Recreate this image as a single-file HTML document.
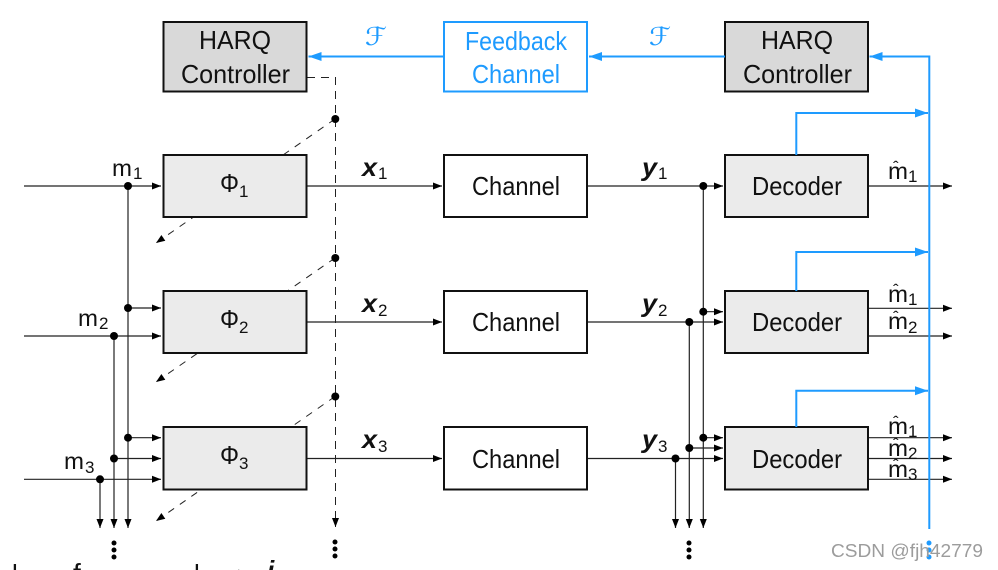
<!DOCTYPE html>
<html><head><meta charset="utf-8"><style>
html,body{margin:0;padding:0;background:#fff;width:998px;height:570px;overflow:hidden}
svg{display:block}
text{font-family:"Liberation Sans",sans-serif;fill:#111}
.b{font-size:26px}
.l{font-size:23px}
.s{font-size:17px}
.v{font-weight:bold;font-style:italic;font-size:25px}
.f{font-family:"DejaVu Sans",serif;font-style:normal;font-size:25px;fill:#1e9bff}
</style></head><body>
<svg width="998" height="570" viewBox="0 0 998 570" xmlns="http://www.w3.org/2000/svg">
<defs>
<marker id="a" markerUnits="userSpaceOnUse" markerWidth="9" markerHeight="8" refX="9" refY="4" orient="auto"><path d="M0 0.5L9 4L0 7.5Z" fill="#000"/></marker>
<marker id="c" markerUnits="userSpaceOnUse" markerWidth="13" markerHeight="10" refX="13" refY="5" orient="auto"><path d="M0 0.5L13 5L0 9.5Z" fill="#1e9bff"/></marker>
</defs>
<!-- dashed -->
<g fill="none" stroke="#222" stroke-width="1">
<path d="M307 77.5H335.5V527" stroke-dasharray="8 6" marker-end="url(#a)"/>
<path d="M335 119L156 243" stroke-dasharray="7 7" marker-end="url(#a)"/>
<path d="M335 258L156 382" stroke-dasharray="7 7" marker-end="url(#a)"/>
<path d="M335 396.5L156 521" stroke-dasharray="7 7" marker-end="url(#a)"/>
</g>
<!-- black lines -->
<g fill="none" stroke="#222" stroke-width="1.2">
<path d="M24 186H161" marker-end="url(#a)"/>
<path d="M128 186V528" marker-end="url(#a)"/>
<path d="M24 336H161" marker-end="url(#a)"/>
<path d="M114 336V528" marker-end="url(#a)"/>
<path d="M24 479.3H161" marker-end="url(#a)"/>
<path d="M100 479.3V528" marker-end="url(#a)"/>
<path d="M128 308H161" marker-end="url(#a)"/>
<path d="M128 437.7H161" marker-end="url(#a)"/>
<path d="M114 458.5H161" marker-end="url(#a)"/>
<path d="M307 186H442" marker-end="url(#a)"/>
<path d="M307 322H442" marker-end="url(#a)"/>
<path d="M307 458.5H442" marker-end="url(#a)"/>
<path d="M587 186H723" marker-end="url(#a)"/>
<path d="M587 322H723" marker-end="url(#a)"/>
<path d="M587 458.5H723" marker-end="url(#a)"/>
<path d="M703.3 186V528" marker-end="url(#a)"/>
<path d="M689.3 322V528" marker-end="url(#a)"/>
<path d="M675.5 458.5V528" marker-end="url(#a)"/>
<path d="M703.3 311.7H723" marker-end="url(#a)"/>
<path d="M703.3 437.7H723" marker-end="url(#a)"/>
<path d="M689.3 448H723" marker-end="url(#a)"/>
<path d="M868 186H952" marker-end="url(#a)"/>
<path d="M868 308.3H952" marker-end="url(#a)"/>
<path d="M868 336H952" marker-end="url(#a)"/>
<path d="M868 437.7H952" marker-end="url(#a)"/>
<path d="M868 458.5H952" marker-end="url(#a)"/>
<path d="M868 479.3H952" marker-end="url(#a)"/>
</g>
<!-- boxes -->
<g stroke="#111" stroke-width="2">
<rect x="163.5" y="22" width="143" height="69.5" fill="#d9d9d9"/>
<rect x="725" y="22" width="143" height="69.5" fill="#d9d9d9"/>
<rect x="163.5" y="155" width="143" height="62" fill="#ebebeb"/>
<rect x="163.5" y="291" width="143" height="62" fill="#ebebeb"/>
<rect x="163.5" y="427" width="143" height="62.5" fill="#ebebeb"/>
<rect x="444" y="155" width="143" height="62" fill="#fff"/>
<rect x="444" y="291" width="143" height="62" fill="#fff"/>
<rect x="444" y="427" width="143" height="62.5" fill="#fff"/>
<rect x="725" y="155" width="143" height="62" fill="#ebebeb"/>
<rect x="725" y="291" width="143" height="62" fill="#ebebeb"/>
<rect x="725" y="427" width="143" height="62.5" fill="#ebebeb"/>
</g>
<rect x="444" y="22" width="143" height="69.5" fill="#fff" stroke="#1e9bff" stroke-width="2"/>
<!-- blue -->
<g fill="none" stroke="#1e9bff" stroke-width="2">
<path d="M929.3 529V56.5H869.5" marker-end="url(#c)"/>
<path d="M725 56.5H589" marker-end="url(#c)"/>
<path d="M444 56.5H308.5" marker-end="url(#c)"/>
<path d="M796.3 155V113H928" marker-end="url(#c)"/>
<path d="M796.3 291V252H928" marker-end="url(#c)"/>
<path d="M796.3 427V390.7H928" marker-end="url(#c)"/>
</g>
<!-- dots -->
<g fill="#000">
<circle cx="128" cy="186" r="4"/><circle cx="128" cy="308" r="4"/><circle cx="114" cy="336" r="4"/>
<circle cx="128" cy="437.7" r="4"/><circle cx="114" cy="458.5" r="4"/><circle cx="100" cy="479.3" r="4"/>
<circle cx="335.3" cy="119" r="4"/><circle cx="335.3" cy="258" r="4"/><circle cx="335.3" cy="396.5" r="4"/>
<circle cx="703.3" cy="186" r="4"/><circle cx="703.3" cy="311.7" r="4"/><circle cx="689.3" cy="322" r="4"/>
<circle cx="703.3" cy="437.7" r="4"/><circle cx="689.3" cy="448" r="4"/><circle cx="675.5" cy="458.5" r="4"/>
<circle cx="114" cy="543" r="2.5"/><circle cx="114" cy="550" r="2.5"/><circle cx="114" cy="557" r="2.5"/>
<circle cx="335" cy="542" r="2.5"/><circle cx="335" cy="549" r="2.5"/><circle cx="335" cy="556" r="2.5"/>
<circle cx="689" cy="543" r="2.5"/><circle cx="689" cy="550" r="2.5"/><circle cx="689" cy="557" r="2.5"/>
</g>
<g fill="#1e9bff"><circle cx="929" cy="543" r="2.5"/><circle cx="929" cy="550" r="2.5"/><circle cx="929" cy="557" r="2.5"/></g>
<!-- box labels -->
<text class="b" x="199" y="49" textLength="72" lengthAdjust="spacingAndGlyphs">HARQ</text>
<text class="b" x="181" y="83" textLength="109" lengthAdjust="spacingAndGlyphs">Controller</text>
<text class="b" x="761" y="49" textLength="72" lengthAdjust="spacingAndGlyphs">HARQ</text>
<text class="b" x="743" y="83" textLength="109" lengthAdjust="spacingAndGlyphs">Controller</text>
<text class="b" x="465" y="50" textLength="102" lengthAdjust="spacingAndGlyphs" style="fill:#1e9bff">Feedback</text>
<text class="b" x="472" y="83" textLength="88" lengthAdjust="spacingAndGlyphs" style="fill:#1e9bff">Channel</text>
<text class="b" x="472" y="195" textLength="88" lengthAdjust="spacingAndGlyphs">Channel</text>
<text class="b" x="472" y="331" textLength="88" lengthAdjust="spacingAndGlyphs">Channel</text>
<text class="b" x="472" y="468" textLength="88" lengthAdjust="spacingAndGlyphs">Channel</text>
<text class="b" x="752" y="195" textLength="90" lengthAdjust="spacingAndGlyphs">Decoder</text>
<text class="b" x="752" y="331" textLength="90" lengthAdjust="spacingAndGlyphs">Decoder</text>
<text class="b" x="752" y="468" textLength="90" lengthAdjust="spacingAndGlyphs">Decoder</text>
<!-- phi -->
<text class="b" x="220" y="192" textLength="19" lengthAdjust="spacingAndGlyphs">Φ</text><text class="s" x="239" y="197">1</text>
<text class="b" x="220" y="328" textLength="19" lengthAdjust="spacingAndGlyphs">Φ</text><text class="s" x="239" y="333">2</text>
<text class="b" x="220" y="464" textLength="19" lengthAdjust="spacingAndGlyphs">Φ</text><text class="s" x="239" y="469">3</text>
<!-- m -->
<text class="l" x="112" y="176" textLength="20" lengthAdjust="spacingAndGlyphs">m</text><text class="s" x="133" y="179">1</text>
<text class="l" x="78" y="326" textLength="20" lengthAdjust="spacingAndGlyphs">m</text><text class="s" x="99" y="329">2</text>
<text class="l" x="64" y="469" textLength="20" lengthAdjust="spacingAndGlyphs">m</text><text class="s" x="85" y="473">3</text>
<!-- x -->
<text class="v" x="362" y="176" textLength="15" lengthAdjust="spacingAndGlyphs">x</text><text class="s" x="378" y="179">1</text>
<text class="v" x="362" y="312" textLength="15" lengthAdjust="spacingAndGlyphs">x</text><text class="s" x="378" y="316">2</text>
<text class="v" x="362" y="448" textLength="15" lengthAdjust="spacingAndGlyphs">x</text><text class="s" x="378" y="452">3</text>
<!-- y -->
<text class="v" x="642" y="176" textLength="15" lengthAdjust="spacingAndGlyphs">y</text><text class="s" x="658" y="179">1</text>
<text class="v" x="642" y="312" textLength="15" lengthAdjust="spacingAndGlyphs">y</text><text class="s" x="658" y="316">2</text>
<text class="v" x="642" y="448" textLength="15" lengthAdjust="spacingAndGlyphs">y</text><text class="s" x="658" y="452">3</text>
<!-- F -->
<text class="f" x="365" y="45" textLength="22" lengthAdjust="spacingAndGlyphs">ℱ</text>
<text class="f" x="649" y="45" textLength="22" lengthAdjust="spacingAndGlyphs">ℱ</text>
<!-- m hat -->
<g>
<text class="l" x="888" y="179" textLength="20" lengthAdjust="spacingAndGlyphs">m</text><text class="s" x="908" y="182">1</text><text class="s" x="893" y="173">ˆ</text>
<text class="l" x="888" y="302" textLength="20" lengthAdjust="spacingAndGlyphs">m</text><text class="s" x="908" y="305">1</text><text class="s" x="893" y="296">ˆ</text>
<text class="l" x="888" y="329" textLength="20" lengthAdjust="spacingAndGlyphs">m</text><text class="s" x="908" y="333">2</text><text class="s" x="893" y="323">ˆ</text>
<text class="l" x="888" y="434" textLength="20" lengthAdjust="spacingAndGlyphs">m</text><text class="s" x="908" y="437">1</text><text class="s" x="893" y="428">ˆ</text>
<text class="l" x="888" y="456" textLength="20" lengthAdjust="spacingAndGlyphs">m</text><text class="s" x="908" y="459">2</text><text class="s" x="893" y="450">ˆ</text>
<text class="l" x="888" y="477" textLength="20" lengthAdjust="spacingAndGlyphs">m</text><text class="s" x="908" y="480">3</text><text class="s" x="893" y="471">ˆ</text>
</g>
<!-- clipped bottom text -->
<text class="b" x="12" y="583">l</text>
<text class="b" x="73" y="583" style="font-size:28px">f</text>
<text class="b" x="194" y="583">l</text>
<text class="b" x="236" y="583" style="font-size:20px">t</text>
<text class="b" x="267" y="579" style="font-style:italic;font-weight:bold">i</text>
<!-- watermark -->
<text x="831" y="557" textLength="152" lengthAdjust="spacingAndGlyphs" style="font-size:18px;fill:#9c9c9c">CSDN @fjh42779</text>
</svg>
</body></html>
